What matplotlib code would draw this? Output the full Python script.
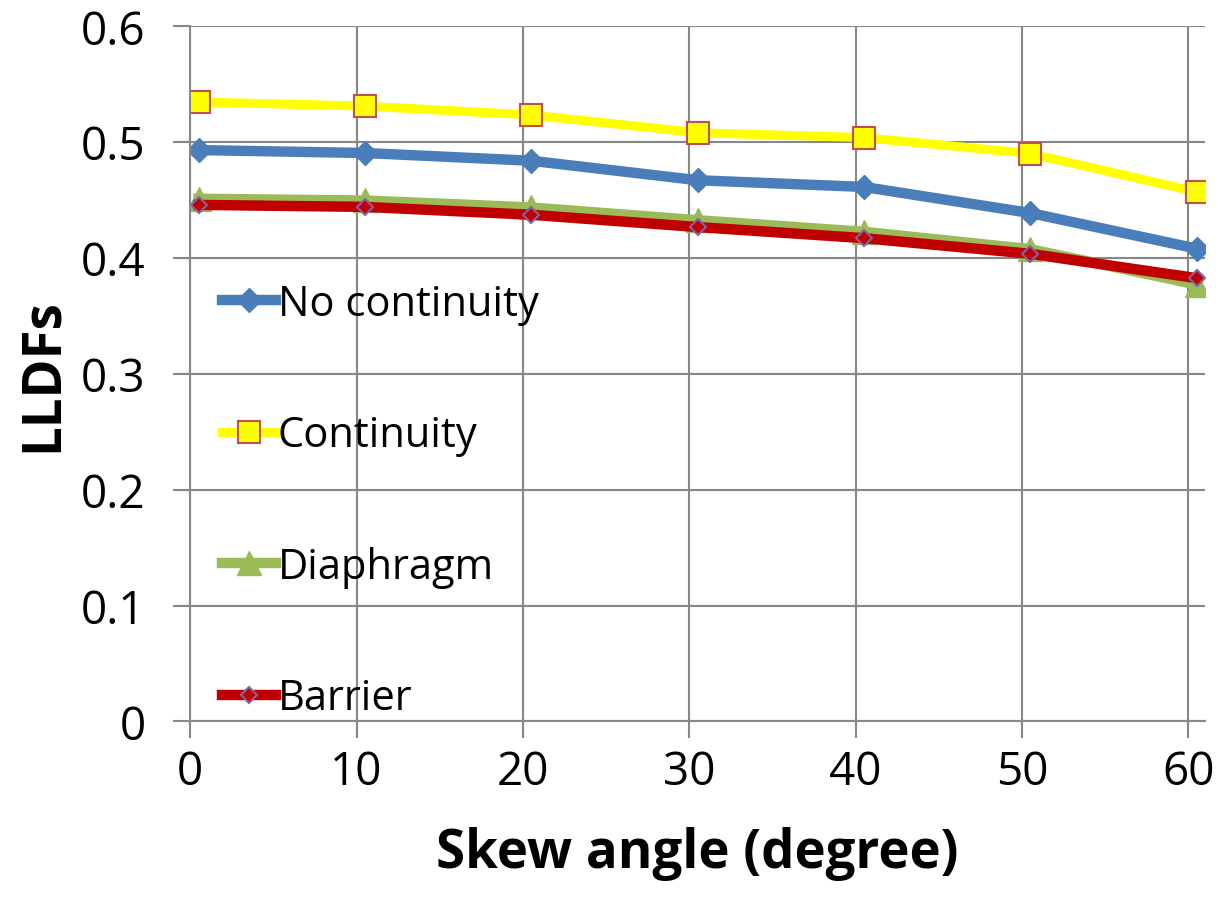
# LLDFs vs skew angle for the four bridge configurations

import matplotlib.pyplot as plt

plt.rcParams['font.family'] = ['Open Sans', 'DejaVu Sans']

# Data (points sit half a unit right of the grid lines, as in the source sheet)
skew = [0.5, 10.5, 20.5, 30.5, 40.5, 50.5, 60.5]
no_continuity = [0.493, 0.4905, 0.4838, 0.467, 0.4612, 0.4387, 0.408]
continuity = [0.5345, 0.531, 0.5233, 0.508, 0.5038, 0.4900, 0.457]
diaphragm = [0.451, 0.4495, 0.4435, 0.4325, 0.4225, 0.4075, 0.377]
barrier = [0.4457, 0.444, 0.4372, 0.4266, 0.417, 0.4035, 0.3825]

xticks = [0, 10, 20, 30, 40, 50, 60]
yticks = [0, 0.1, 0.2, 0.3, 0.4, 0.5, 0.6]

fig = plt.figure(figsize=(12.27, 9.03), dpi=100)
ax = fig.add_axes([0.155, 0.200, 0.827, 0.770])

ax.plot(skew, no_continuity, label='No continuity', color='#4a7ebb', lw=7.5,
        marker='D', ms=12.5, mfc='#4a7ebb', mec='#4a7ebb')
ax.plot(skew, continuity, label='Continuity', color='#ffff00', lw=6.5,
        marker='s', ms=16.5, mfc='#ffff00', mec='#c0504d', mew=1.5)
ax.plot(skew, diaphragm, label='Diaphragm', color='#9bbb59', lw=7.5,
        marker='^', ms=17, mfc='#9bbb59', mec='#9bbb59')
ax.plot(skew, barrier, label='Barrier', color='#c00000', lw=7.5,
        marker='D', ms=8.5, mfc='#c00000', mec='#8064a2', mew=1.5)

ax.set_xlim(0, 61)
ax.set_ylim(0, 0.6)
ax.set_xticks(xticks)
ax.set_yticks(yticks)
ax.set_yticklabels(['0', '0.1', '0.2', '0.3', '0.4', '0.5', '0.6'])

# grid lines
ax.grid(True, color='#878787', lw=1.5)
ax.set_axisbelow(True)
for s in ['top', 'right']:
    ax.spines[s].set_visible(False)
for s in ['left', 'bottom']:
    ax.spines[s].set_color('#878787')
    ax.spines[s].set_linewidth(1.5)
ax.tick_params(length=12, width=1.5, color='#878787', labelsize=33)
ax.tick_params(axis='x', pad=8)
ax.tick_params(axis='y', pad=20)

ax.set_xlabel('Skew angle (degree)', fontsize=38, fontweight='bold', labelpad=22)
ax.set_ylabel('LLDFs', fontsize=38, fontweight='bold', labelpad=8)

ax.legend(loc='upper left', bbox_to_anchor=(-0.006, 0.685), frameon=False,
          fontsize=30, handlelength=1.3, handletextpad=0.05, labelspacing=2.15,
          borderaxespad=0.5)

plt.savefig('out.png')
